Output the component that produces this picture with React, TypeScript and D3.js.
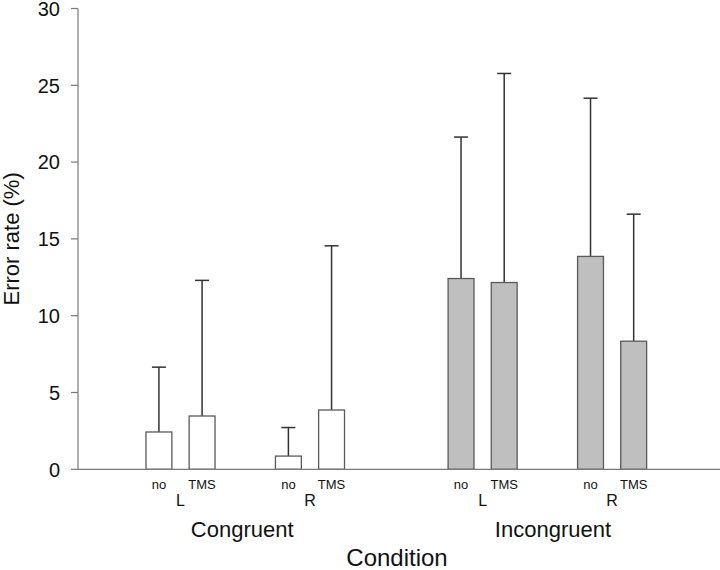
import React from "react";
import * as d3 from "d3";

const groups = ["Congruent", "Incongruent"];
const sides = ["L", "R"];
const conditions = ["no", "TMS"];
// values per group -> side -> condition (mean error rate, %)
const congruentMeans = [2.43, 3.47, 0.86, 3.86];
const congruentUpper = [6.65, 12.3, 2.72, 14.55];
const incongruentMeans = [12.42, 12.16, 13.86, 8.34];
const incongruentUpper = [21.63, 25.77, 24.16, 16.61];
const yTicks = [0, 5, 10, 15, 20, 25, 30];

const W = 720;
const H = 570;
const FONT = "'Liberation Sans', Arial, Helvetica, sans-serif";

type Bar = { group: number; side: number; cond: number; value: number; upper: number; slot: number };

const bars: Bar[] = [];
[congruentMeans, incongruentMeans].forEach((means, g) => {
  const uppers = g === 0 ? congruentUpper : incongruentUpper;
  means.forEach((v, i) => {
    const side = Math.floor(i / 2);
    const cond = i % 2;
    bars.push({ group: g, side, cond, value: v, upper: uppers[i], slot: g * 7 + side * 3 + cond });
  });
});

export default function App() {
  const x = d3.scaleLinear().domain([-1.875, 13]).range([78, 720]);
  const y = d3.scaleLinear().domain([0, 30]).range([469.3, 8.5]);
  const barW = x(0.6) - x(0);
  const capW = 14;
  const axisColor = "#7a7a7a";

  return (
    <svg
      width={W}
      height={H}
      style={{ position: "absolute", left: 0, top: 0, background: "#fff" }}
      fontFamily={FONT}
    >
      {/* error bars */}
      {bars.map((b, i) => {
        const cx = x(b.slot);
        return (
          <g key={"e" + i} stroke="#333" strokeWidth={1.5}>
            <line x1={cx} x2={cx} y1={y(b.value)} y2={y(b.upper)} />
            <line x1={cx - capW / 2} x2={cx + capW / 2} y1={y(b.upper)} y2={y(b.upper)} />
          </g>
        );
      })}
      {/* bars */}
      {bars.map((b, i) => (
        <rect
          key={"b" + i}
          x={x(b.slot) - barW / 2}
          y={y(b.value)}
          width={barW}
          height={y(0) - y(b.value)}
          fill={b.group === 0 ? "#ffffff" : "#bfbfbf"}
          stroke="#5a5a5a"
          strokeWidth={1.3}
        />
      ))}
      {/* axes */}
      <line x1={x.range()[0]} x2={x.range()[1]} y1={y(0)} y2={y(0)} stroke={axisColor} strokeWidth={1.2} />
      <line x1={x.range()[0]} x2={x.range()[0]} y1={y(0)} y2={y(30)} stroke={axisColor} strokeWidth={1.2} />
      {yTicks.map((t) => (
        <g key={"t" + t}>
          <line x1={71} x2={78} y1={y(t)} y2={y(t)} stroke={axisColor} strokeWidth={1.2} />
          <text x={60} y={y(t)} dy="0.36em" textAnchor="end" fontSize={20} fill="#111">
            {t}
          </text>
        </g>
      ))}
      <text
        transform={`translate(19, ${(y(0) + y(30)) / 2}) rotate(-90)`}
        textAnchor="middle"
        fontSize={22}
        fill="#111"
      >
        Error rate (%)
      </text>
      {/* condition labels under bars */}
      {bars.map((b, i) => (
        <text key={"c" + i} x={x(b.slot)} y={489} textAnchor="middle" fontSize={13} fill="#111">
          {conditions[b.cond]}
        </text>
      ))}
      {groups.map((g, gi) =>
        sides.map((s, si) => (
          <text
            key={g + s}
            x={x(gi * 7 + si * 3 + 0.5)}
            y={506}
            textAnchor="middle"
            fontSize={16}
            fill="#111"
          >
            {s}
          </text>
        ))
      )}
      {groups.map((g, gi) => (
        <text key={g} x={x(gi * 7.2 + 1.93)} y={537} textAnchor="middle" fontSize={22} fill="#111">
          {g}
        </text>
      ))}
      <text x={(x.range()[0] + x.range()[1]) / 2 - 2} y={566} textAnchor="middle" fontSize={24} fill="#111">
        Condition
      </text>
    </svg>
  );
}
